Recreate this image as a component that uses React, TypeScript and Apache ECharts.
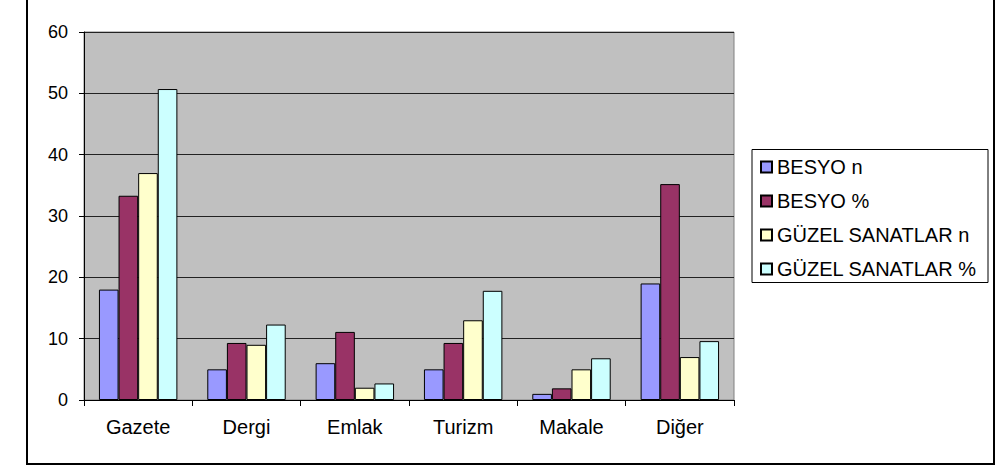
import React, { useEffect, useRef } from "react";
import * as echarts from "echarts";

const categories = ["Gazete", "Dergi", "Emlak", "Turizm", "Makale", "Diğer"];
const seriesNames = ["BESYO n", "BESYO %", "GÜZEL SANATLAR n", "GÜZEL SANATLAR %"];
const besyoN = [18, 5, 6, 5, 1, 19];
const besyoPct = [33.3, 9.3, 11.1, 9.3, 1.9, 35.2];
const guzelN = [37, 9, 2, 13, 5, 7];
const guzelPct = [50.7, 12.3, 2.7, 17.8, 6.8, 9.6];
const yTicks = { min: 0, max: 60, interval: 10 };
const colors = ["#9999FF", "#993366", "#FFFFCC", "#CCFFFF"];

const FONT = "'Liberation Sans', Arial, sans-serif";

export default function App() {
  const ref = useRef<HTMLDivElement>(null);
  useEffect(() => {
    if (!ref.current) return;
    const chart = echarts.init(ref.current, null, { renderer: "svg" });
    const values = [besyoN, besyoPct, guzelN, guzelPct];
    chart.setOption({
      animation: false,
      backgroundColor: "#ffffff",
      textStyle: { fontFamily: FONT },
      grid: {
        left: 84,
        right: 274,
        top: 32,
        bottom: 68,
        show: true,
        backgroundColor: "#C0C0C0",
        borderColor: "#808080",
        borderWidth: 1,
      },
      legend: {
        orient: "vertical",
        left: 760,
        top: 157,
        padding: 0,
        itemWidth: 11,
        itemHeight: 11,
        itemGap: 14,
        icon: "rect",
        data: seriesNames,
        textStyle: { fontSize: 20, lineHeight: 19, color: "#000", fontFamily: FONT },
      },
      xAxis: {
        type: "category",
        data: categories,
        axisLine: { show: true, lineStyle: { color: "#000", width: 1 } },
        axisTick: { show: true, length: 6, alignWithLabel: false, lineStyle: { color: "#000" } },
        axisLabel: { fontSize: 20, color: "#000", margin: 17, fontFamily: FONT },
        splitLine: { show: false },
      },
      yAxis: {
        type: "value",
        min: yTicks.min,
        max: yTicks.max,
        interval: yTicks.interval,
        axisLine: { show: true, lineStyle: { color: "#000", width: 1 } },
        axisTick: { show: true, length: 5, lineStyle: { color: "#000" } },
        axisLabel: { fontSize: 18, color: "#000", margin: 16, fontFamily: FONT },
        splitLine: { show: true, lineStyle: { color: "#222", width: 1 } },
      },
      series: seriesNames.map((name, i) => ({
        name,
        type: "bar",
        data: values[i],
        barGap: "0%",
        barCategoryGap: "27.6%",
        itemStyle: { color: colors[i], borderColor: "#000", borderWidth: 1 },
      })),
      graphic: [
        {
          type: "rect",
          shape: { x: 27, y: -10, width: 967, height: 474 },
          style: { fill: "none", stroke: "#000", lineWidth: 2 },
          silent: true,
        },
        {
          type: "rect",
          shape: { x: 752, y: 149.5, width: 236, height: 133 },
          style: { fill: "none", stroke: "#000", lineWidth: 1 },
          silent: true,
        },
      ],
    });
    return () => chart.dispose();
  }, []);
  return (
    <div
      ref={ref}
      style={{ position: "fixed", left: 0, top: 0, width: 1008, height: 468 }}
    />
  );
}
